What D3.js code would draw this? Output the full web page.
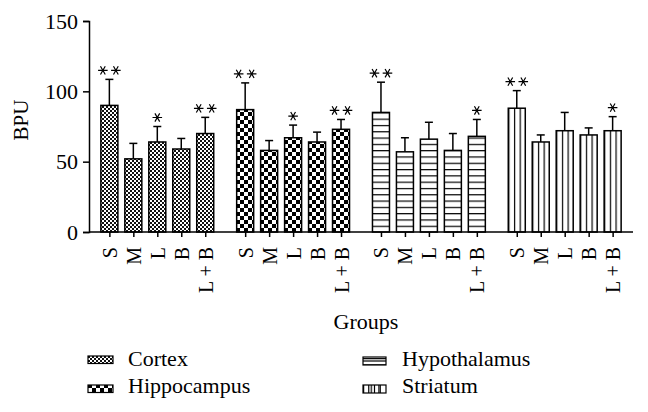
<!DOCTYPE html>
<html>
<head>
<meta charset="utf-8">
<script src="https://cdn.jsdelivr.net/npm/d3@7"></script>
<style>
  body { margin: 0; background: #fff; }
  svg text { font-family: "Liberation Serif", "DejaVu Serif", serif; fill: #000; }
</style>
</head>
<body>
<div id="chart"></div>
<script>
const regions = ['Cortex', 'Hippocampus', 'Hypothalamus', 'Striatum'];
const groups = ['S', 'M', 'L', 'B', 'L + B'];
const means = [
  [90, 52, 64, 59, 70],
  [87, 58, 67, 64, 73],
  [85, 57, 66, 58, 68],
  [88, 64, 72, 69, 72]
];
const errors = [
  [18.5, 11, 11, 7.5, 11.5],
  [19, 7, 9, 7, 7],
  [21.5, 10, 12, 12, 12],
  [12.5, 5, 13, 5, 10]
];
// number of significance stars above each bar
const stars = [
  [2, 0, 1, 0, 2],
  [2, 0, 1, 0, 2],
  [2, 0, 0, 0, 1],
  [2, 0, 0, 0, 1]
];
const yTicks = [0, 50, 100, 150];

const width = 648, height = 412;
const plot = { left: 89, right: 633, top: 21, bottom: 232 };
const groupStride = 5 + 2 / 3;

const svg = d3.select('#chart').append('svg')
  .attr('width', width).attr('height', height);

const defs = svg.append('defs');

// fine checker for Cortex
const p1 = defs.append('pattern').attr('id', 'pat-cortex')
  .attr('patternUnits', 'userSpaceOnUse').attr('width', 4).attr('height', 4);
p1.append('rect').attr('width', 4).attr('height', 4).attr('fill', '#fff');
p1.append('rect').attr('width', 2).attr('height', 2).attr('fill', '#111');
p1.append('rect').attr('x', 2).attr('y', 2).attr('width', 2).attr('height', 2).attr('fill', '#111');

// coarse checker for Hippocampus
const p2 = defs.append('pattern').attr('id', 'pat-hippo')
  .attr('patternUnits', 'userSpaceOnUse').attr('width', 8).attr('height', 8);
p2.append('rect').attr('width', 8).attr('height', 8).attr('fill', '#fff');
p2.append('rect').attr('width', 4).attr('height', 4).attr('fill', '#000');
p2.append('rect').attr('x', 4).attr('y', 4).attr('width', 4).attr('height', 4).attr('fill', '#000');

// horizontal lines for Hypothalamus
const p3 = defs.append('pattern').attr('id', 'pat-hypo')
  .attr('patternUnits', 'userSpaceOnUse').attr('width', 10).attr('height', 6.3)
  .attr('y', plot.bottom);
p3.append('rect').attr('width', 10).attr('height', 6.3).attr('fill', '#fff');
p3.append('line').attr('x1', 0).attr('x2', 10).attr('y1', 0.6).attr('y2', 0.6)
  .attr('stroke', '#000').attr('stroke-width', 1.2);

// vertical lines for Striatum (thirds of each bar)
const p4 = defs.append('pattern').attr('id', 'pat-stri')
  .attr('patternUnits', 'objectBoundingBox').attr('width', 1 / 3).attr('height', 1);
p4.append('rect').attr('width', 40).attr('height', 400).attr('fill', '#fff');
p4.append('line').attr('x1', 0.6).attr('x2', 0.6).attr('y1', 0).attr('y2', 400)
  .attr('stroke', '#000').attr('stroke-width', 1.2);

const fills = ['url(#pat-cortex)', 'url(#pat-hippo)', 'url(#pat-hypo)', 'url(#pat-stri)'];

const x = d3.scaleLinear()
  .domain([-0.85, 3 * groupStride + 4 + 0.85])
  .range([plot.left, plot.right]);
const y = d3.scaleLinear().domain([0, 150]).range([plot.bottom, plot.top]);
const barW = 17;

const rows = [];
regions.forEach((r, g) => groups.forEach((c, i) => rows.push({
  g, i, label: c, mean: means[g][i], err: errors[g][i], star: stars[g][i],
  pos: g * groupStride + i
})));

// y axis
const yAxis = svg.append('g').attr('transform', `translate(${plot.left},0)`)
  .call(d3.axisLeft(y).tickValues(yTicks).tickSize(6).tickPadding(5));
yAxis.select('.domain').attr('stroke-width', 1.5);
yAxis.selectAll('.tick line').attr('stroke-width', 1.5);
yAxis.selectAll('.tick text').style('font-size', '22px').style('font-family', '"Liberation Serif", serif');

// bars
const bar = svg.append('g').selectAll('g').data(rows).join('g');
bar.append('line')
  .attr('x1', d => x(d.pos)).attr('x2', d => x(d.pos))
  .attr('y1', d => y(d.mean)).attr('y2', d => y(d.mean + d.err))
  .attr('stroke', '#000').attr('stroke-width', 1.5);
bar.append('line')
  .attr('x1', d => x(d.pos) - 4).attr('x2', d => x(d.pos) + 4)
  .attr('y1', d => y(d.mean + d.err)).attr('y2', d => y(d.mean + d.err))
  .attr('stroke', '#000').attr('stroke-width', 1.5);
bar.append('rect')
  .attr('x', d => x(d.pos) - barW / 2).attr('width', barW)
  .attr('y', d => y(d.mean)).attr('height', d => y(0) - y(d.mean))
  .attr('fill', d => fills[d.g]).attr('stroke', '#000').attr('stroke-width', 1.5);

// significance asterisks
const asterisk = d3.symbol(d3.symbolAsterisk, 64);
bar.filter(d => d.star > 0).each(function (d) {
  const offs = d.star === 2 ? [-6.5, 6.5] : [0];
  offs.forEach(o => d3.select(this).append('path')
    .attr('d', asterisk())
    .attr('transform', `translate(${x(d.pos) + o},${y(d.mean + d.err) - 9}) rotate(90)`)
    .attr('fill', 'none').attr('stroke', '#000').attr('stroke-width', 1.2));
});

// x axis
const xAxis = svg.append('g').attr('transform', `translate(0,${plot.bottom})`)
  .call(d3.axisBottom(x).tickValues(rows.map(d => d.pos))
    .tickFormat((v, k) => rows[k].label).tickSize(5).tickPadding(0));
xAxis.select('.domain').attr('stroke-width', 1.5).attr('d', `M${plot.left},0H${plot.right}`);
xAxis.selectAll('.tick line').attr('stroke-width', 1.5);
xAxis.selectAll('.tick text')
  .style('font-size', '20px').style('font-family', '"Liberation Serif", serif')
  .attr('text-anchor', 'end').attr('dy', '0.35em')
  .attr('transform', 'translate(0,15) rotate(-90)').attr('x', 0).attr('y', 0);

// axis titles
svg.append('text').attr('transform', `translate(28,120) rotate(-90)`)
  .attr('text-anchor', 'middle').style('font-size', '21px').text('BPU');
svg.append('text').attr('x', 366).attr('y', 329)
  .attr('text-anchor', 'middle').style('font-size', '22px').text('Groups');

// legend
const legend = [
  { name: regions[0], sx: 88, sy: 356, tx: 128, ty: 366 },
  { name: regions[1], sx: 88, sy: 385, tx: 128, ty: 393 },
  { name: regions[2], sx: 363, sy: 357, tx: 402, ty: 366 },
  { name: regions[3], sx: 363, sy: 385, tx: 402, ty: 393 }
];
legend.forEach((l, k) => {
  const w = k < 2 ? 25 : 23, h = k < 2 ? 7.5 : 8;
  const sg = svg.append('g');
  sg.append('rect').attr('x', l.sx).attr('y', l.sy).attr('width', w).attr('height', h)
    .attr('fill', fills[k]).attr('stroke', '#000').attr('stroke-width', 1.2);
  if (k === 2) {
    sg.append('line').attr('x1', l.sx).attr('x2', l.sx + w)
      .attr('y1', l.sy + h / 2).attr('y2', l.sy + h / 2).attr('stroke', '#000').attr('stroke-width', 1.2);
  }
  if (k === 3) {
    [1, 2, 3].forEach(j => sg.append('line')
      .attr('x1', l.sx + j * w / 4).attr('x2', l.sx + j * w / 4)
      .attr('y1', l.sy).attr('y2', l.sy + h).attr('stroke', '#000').attr('stroke-width', 1.2));
  }
  svg.append('text').attr('x', l.tx).attr('y', l.ty).style('font-size', '22px').text(l.name);
});
</script>
</body>
</html>
